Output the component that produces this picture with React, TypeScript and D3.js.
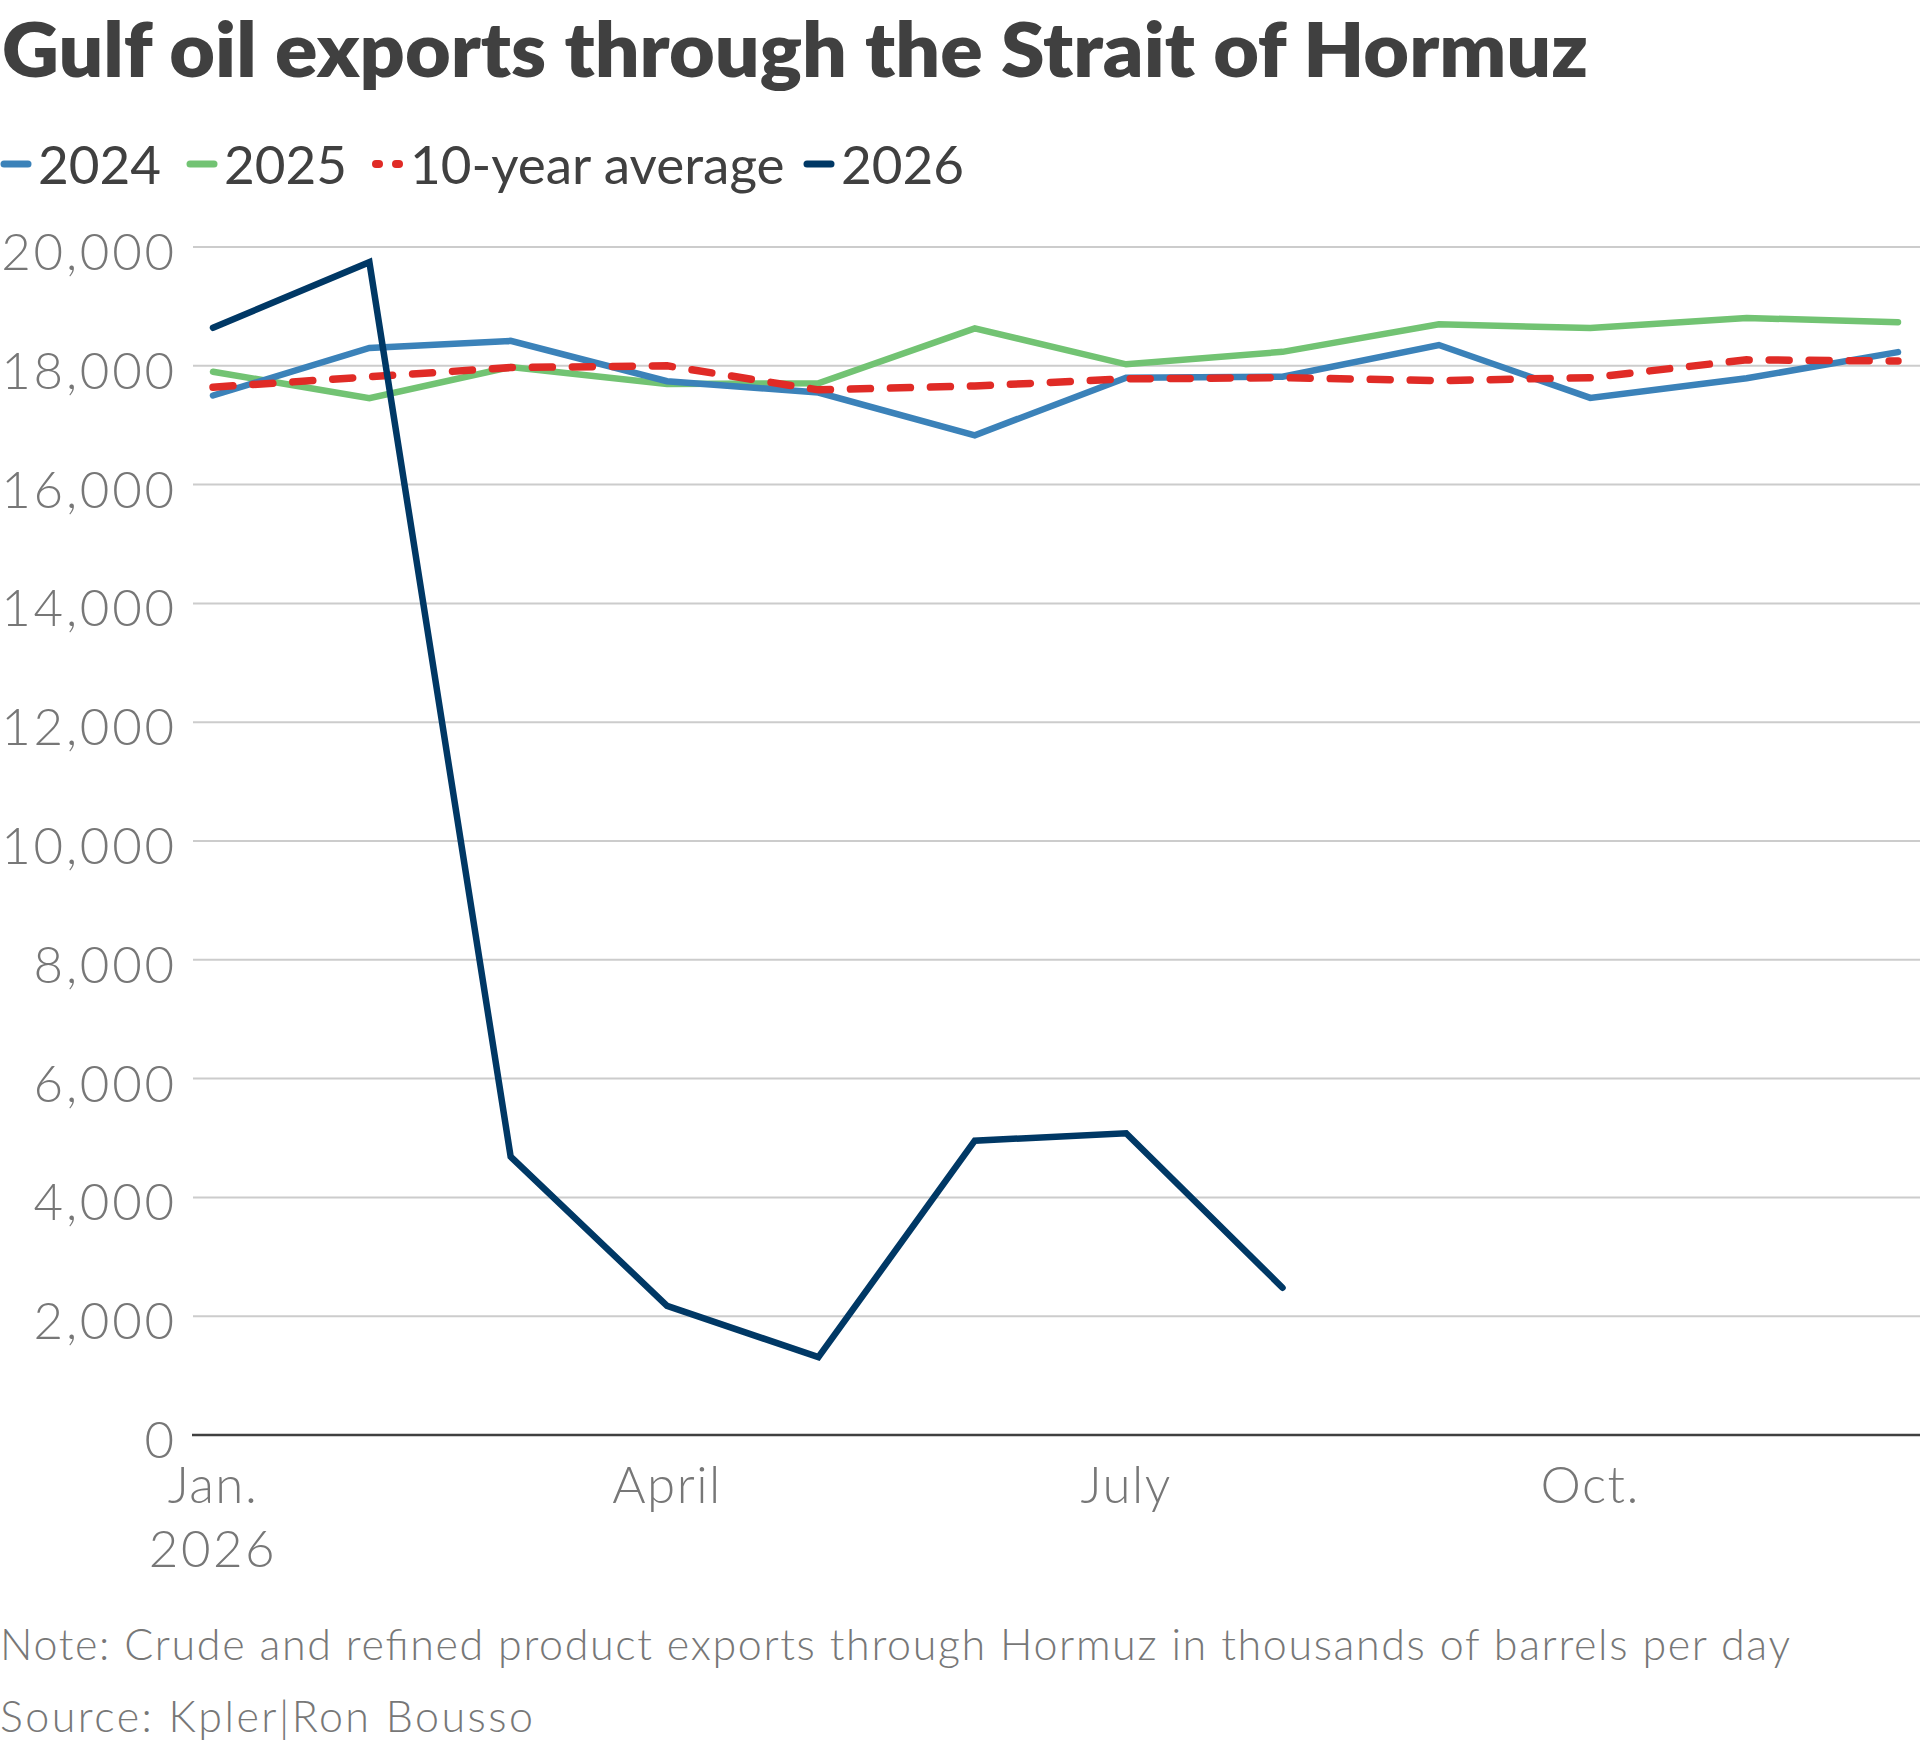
import * as d3 from "d3";

const months = ["Jan", "Feb", "Mar", "Apr", "May", "Jun", "Jul", "Aug", "Sep", "Oct", "Nov", "Dec"];
const v2024 = [17500, 18300, 18420, 17740, 17550, 16830, 17800, 17815, 18350, 17460, 17790, 18230];
const v2025 = [17900, 17455, 17980, 17695, 17705, 18630, 18025, 18235, 18700, 18635, 18805, 18735];
const avg10 = [17640, 17815, 17970, 18000, 17595, 17660, 17780, 17800, 17750, 17800, 18100, 18080];
const v2026 = [18640, 19745, 4685, 2175, 1310, 4955, 5080, 2480];

const yTicks = [0, 2000, 4000, 6000, 8000, 10000, 12000, 14000, 16000, 18000, 20000];
const xTicks = [
  { m: 0, label: "Jan.", sub: "2026" },
  { m: 3, label: "April" },
  { m: 6, label: "July" },
  { m: 9, label: "Oct." },
];

const W = 1920;
const H = 1747;
const FONT = "Lato, 'Open Sans', sans-serif";

const monthDate = (i: number) => new Date(2026, i, 1);

const x = d3.scaleTime().domain([monthDate(0), monthDate(11)]).range([213, 1898]);
const y = d3.scaleLinear().domain([0, 20000]).range([1435, 247]);

const line = d3
  .line<number>()
  .x((_, i) => x(monthDate(i)))
  .y((d) => y(d));

const series = [
  { name: "2025", data: v2025, color: "#72c373", dash: undefined },
  { name: "2024", data: v2024, color: "#3b82b9", dash: undefined },
  { name: "10-year average", data: avg10, color: "#e02b26", dash: "20 20" },
  { name: "2026", data: v2026, color: "#003865", dash: undefined },
];

const legend = [
  { name: "2024", color: "#3b82b9", x0: 0 },
  { name: "2025", color: "#72c373", x0: 186 },
  { name: "10-year average", color: "#e02b26", x0: 372, dots: true },
  { name: "2026", color: "#003865", x0: 803 },
];

const App = () => {
  const fmt = d3.format(",d");
  return (
    <svg
      width={W}
      height={H}
      viewBox={`0 0 ${W} ${H}`}
      style={{ position: "absolute", left: 0, top: 0, background: "#fff" }}
    >
      <text x={2} y={77} fontFamily={FONT} fontWeight={800} fontSize={76} fill="#404040"
        textLength={1586} lengthAdjust="spacingAndGlyphs">
        Gulf oil exports through the Strait of Hormuz
      </text>

      {legend.map((l) => (
        <g key={l.name}>
          {l.dots ? (
            <>
              <line x1={376} x2={379} y1={164} y2={164} stroke={l.color} strokeWidth={8} strokeLinecap="round" />
              <line x1={396} x2={399} y1={164} y2={164} stroke={l.color} strokeWidth={8} strokeLinecap="round" />
            </>
          ) : (
            <line x1={l.x0 + 4} x2={l.x0 + 28} y1={164} y2={164} stroke={l.color} strokeWidth={7} strokeLinecap="round" />
          )}
          <text x={l.x0 + 38} y={184} fontFamily={FONT} fontSize={53} fill="#404040">
            {l.name}
          </text>
        </g>
      ))}

      {yTicks.map((t) => (
        <g key={t}>
          {t > 0 && <line x1={193} x2={W} y1={y(t)} y2={y(t)} stroke="#cccccc" strokeWidth={2} />}
          <text x={177} y={y(t) + 23} textAnchor="end" fontFamily={FONT} fontWeight={300}
            fontSize={51} letterSpacing={2.8} fill="#777777">
            {fmt(t)}
          </text>
        </g>
      ))}
      <line x1={192} x2={W} y1={y(0)} y2={y(0)} stroke="#404040" strokeWidth={2.5} />

      {xTicks.map((t) => (
        <g key={t.label}>
          <text x={x(monthDate(t.m))} y={1503} textAnchor="middle" fontFamily={FONT} fontWeight={300}
            fontSize={51} letterSpacing={1.5} fill="#777777">
            {t.label}
          </text>
          {t.sub && (
            <text x={x(monthDate(t.m))} y={1567} textAnchor="middle" fontFamily={FONT} fontWeight={300}
              fontSize={51} letterSpacing={2.5} fill="#777777">
              {t.sub}
            </text>
          )}
        </g>
      ))}

      {series.map((s) => (
        <path
          key={s.name}
          d={line(s.data) || ""}
          fill="none"
          stroke={s.color}
          strokeWidth={s.dash ? 7.5 : 6.5}
          strokeDasharray={s.dash}
          strokeLinecap="round"
          strokeLinejoin="miter"
        />
      ))}

      <text x={0} y={1660} fontFamily={FONT} fontWeight={300} fontSize={43} fill="#777777"
        textLength={1790} lengthAdjust="spacing">
        Note: Crude and refined product exports through Hormuz in thousands of barrels per day
      </text>
      <text x={0} y={1732} fontFamily={FONT} fontWeight={300} fontSize={43} fill="#777777"
        textLength={533} lengthAdjust="spacing">
        Source: Kpler|Ron Bousso
      </text>
    </svg>
  );
};

export default App;
